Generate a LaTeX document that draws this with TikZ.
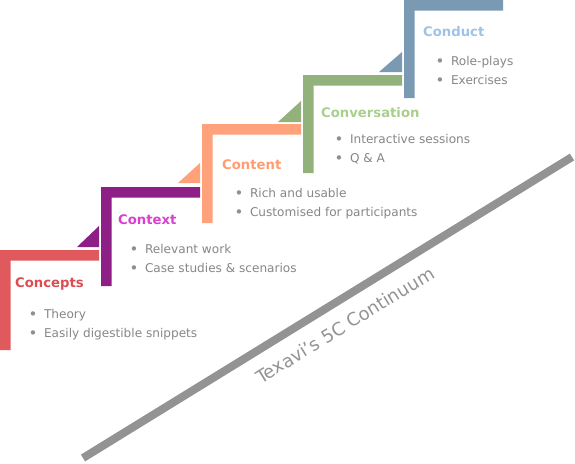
\documentclass[tikz,border=0pt]{standalone}
\usepackage{fontspec}
\setmainfont{DejaVu Sans}
\usepackage{xcolor}

\definecolor{barRed}{HTML}{E05A5D}
\definecolor{barPurple}{HTML}{8E1F87}
\definecolor{barOrange}{HTML}{FFA27B}
\definecolor{barGreen}{HTML}{93B17B}
\definecolor{barBlue}{HTML}{7A9AB4}
\definecolor{ttlRed}{HTML}{DC4C50}
\definecolor{ttlPurple}{HTML}{D940D2}
\definecolor{ttlOrange}{HTML}{FF9D72}
\definecolor{ttlGreen}{HTML}{A8CF8C}
\definecolor{ttlBlue}{HTML}{9DC3E6}
\definecolor{itemGray}{HTML}{868686}
\definecolor{dotGray}{HTML}{8F8F8F}
\definecolor{lineGray}{HTML}{939393}

\begin{document}
\begin{tikzpicture}[
        x=1pt, y=-1pt,
        ttl/.style={anchor=base west, inner sep=0pt, font=\bfseries\fontsize{13.2}{15}\selectfont},
        item/.style={anchor=base west, inner sep=0pt, text=itemGray, font=\fontsize{12.1}{14}\selectfont,
            execute at begin node={\textcolor{dotGray}{\raisebox{-1.3pt}{\fontsize{15}{15}\selectfont•}}\hspace{6.5pt}}},
        tagline/.style={inner sep=0pt, text=lineGray, font=\fontsize{18}{20}\selectfont},
        continuum/.style={lineGray, line width=8pt}
    ]
        \useasboundingbox (0,0) rectangle (575,463);

        % stairs
        \fill[barRed]    (0,250)   -- ++(99,0) -- ++(0,10.5) -- ++(-88.5,0) -- ++(0,89.5) -- ++(-10.5,0) -- cycle;
        \fill[barPurple] (101,187) -- ++(99,0) -- ++(0,10.5) -- ++(-88.5,0) -- ++(0,88.5) -- ++(-10.5,0) -- cycle;
        \fill[barOrange] (202,124) -- ++(99,0) -- ++(0,10.5) -- ++(-88.5,0) -- ++(0,88.5) -- ++(-10.5,0) -- cycle;
        \fill[barGreen]  (303,75)  -- ++(99,0) -- ++(0,10.5) -- ++(-88.5,0) -- ++(0,87.5) -- ++(-10.5,0) -- cycle;
        \fill[barBlue]   (404,0)   -- ++(99,0) -- ++(0,10.5) -- ++(-88.5,0) -- ++(0,87.5) -- ++(-10.5,0) -- cycle;

        % corner wedges
        \fill[barPurple] (77,247)  -- (99,247)  -- (99,226)  -- cycle;
        \fill[barOrange] (178,183) -- (200,183) -- (200,163) -- cycle;
        \fill[barGreen]  (278,122) -- (301,122) -- (301,101) -- cycle;
        \fill[barBlue]   (379,72)  -- (402,72)  -- (402,52)  -- cycle;

        % titles
        \node[ttl, text=ttlRed]    (concepts)     at (15,287)  {Concepts};
        \node[ttl, text=ttlPurple] (context)      at (118,224) {Context};
        \node[ttl, text=ttlOrange] (content)      at (222,169) {Content};
        \node[ttl, text=ttlGreen]  (conversation) at (321,117) {Conversation};
        \node[ttl, text=ttlBlue]   (conduct)      at (423,36)  {Conduct};

        % bullet points
        \node[item] (concepts-a) at ([shift={(13.5,31)}]concepts.base west)  {Theory};
        \node[item] (concepts-b) at ([shift={(0,19.5)}]concepts-a.base west) {Easily digestible snippets};
        \node[item] (context-a)  at ([shift={(11.5,29)}]context.base west)   {Relevant work};
        \node[item] (context-b)  at ([shift={(0,19.5)}]context-a.base west)  {Case studies \& scenarios};
        \node[item] (content-a)  at ([shift={(12.5,28)}]content.base west)   {Rich and usable};
        \node[item] (content-b)  at ([shift={(0,19.5)}]content-a.base west)  {Customised for participants};
        \node[item] (conversation-a) at ([shift={(13.5,26)}]conversation.base west)  {Interactive sessions};
        \node[item] (conversation-b) at ([shift={(0,19.5)}]conversation-a.base west) {Q \& A};
        \node[item] (conduct-a)  at ([shift={(12.5,29)}]conduct.base west)   {Role-plays};
        \node[item] (conduct-b)  at ([shift={(0,19.5)}]conduct-a.base west)  {Exercises};

        % continuum line
        \coordinate (lineA) at (83,458);
        \coordinate (lineB) at (572,157);
        \draw[continuum] (lineA) -- (lineB);
        \node[tagline, rotate=31.6] (tag) at (345,325) {Texavi’s 5C Continuum};
    \end{tikzpicture}
\end{document}
